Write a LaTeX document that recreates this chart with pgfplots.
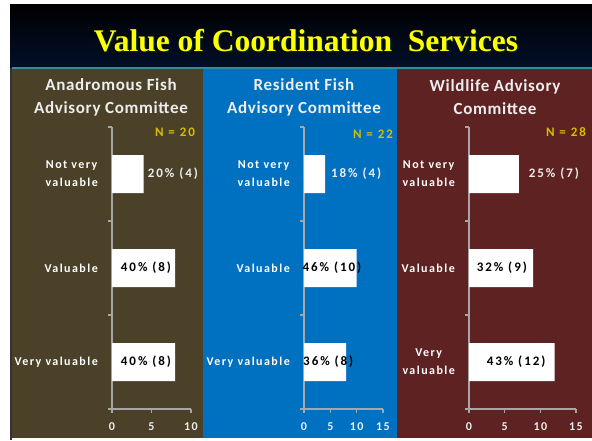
\documentclass[border=0pt]{standalone}
\usepackage{pgfplots}
\pgfplotsset{compat=1.18}
\usepackage{fontspec}
\setmainfont{Carlito}
\newfontfamily\titlefont{Liberation Serif}
\newfontfamily\hdrfont[LetterSpace=4]{Carlito}
\newfontfamily\lsfont[LetterSpace=12]{Carlito}
\newfontfamily\barlsfont[LetterSpace=15]{Carlito}

\definecolor{panelA}{HTML}{4B4129}
\definecolor{panelB}{HTML}{0070C0}
\definecolor{panelC}{HTML}{5E2222}
\definecolor{tealline}{HTML}{2E8E9E}
\definecolor{navy}{HTML}{03102A}
\definecolor{axgray}{HTML}{A6A6A6}
\definecolor{ncol}{HTML}{D4C000}
\definecolor{hdr}{HTML}{EDEDED}
\definecolor{ttl}{HTML}{FFFF00}

\newcommand{\catfont}{\lsfont\bfseries\fontsize{12}{18}\selectfont}
\newcommand{\barfont}{\barlsfont\bfseries\fontsize{13}{15}\selectfont}
\newcommand{\ticfont}{\lsfont\bfseries\fontsize{12}{14}\selectfont}

\tikzset{
  catlab/.style={font=\catfont, text=white, align=center, anchor=east, inner sep=0pt, xshift=-14pt},
  darklab/.style={font=\barfont, text=black, inner sep=0pt},
  lightlab/.style={font=\barfont, text=hdr, inner sep=0pt},
}

\pgfplotsset{panel/.style={
  scale only axis, height=282pt, xbar, bar width=38pt,
  ymin=-0.5, ymax=2.5, xmin=0,
  axis x line*=bottom, axis y line*=left,
  axis line style={axgray, line width=1.2pt},
  ytick={-0.5,0.5,1.5,2.5}, yticklabels={},
  tick style={axgray, line width=1.2pt},
  major tick length=4pt, tick align=outside,
  xticklabel style={font=\ticfont, text=hdr, yshift=-6pt},
  /pgf/number format/assume math mode=true,
  clip=false,
}}

\begin{document}
\begin{tikzpicture}
\useasboundingbox (0pt,0pt) rectangle (592pt,440pt);
\fill[white] (0pt,0pt) rectangle (592pt,440pt);
\shade[top color=black, bottom color=navy] (10pt,372pt) rectangle (592pt,435pt);
\fill[black!80] (10pt,0pt) rectangle (12pt,372pt);
\fill[panelA] (12pt,2pt) rectangle (203pt,371pt);
\fill[panelB] (203pt,2pt) rectangle (397pt,371pt);
\fill[panelC] (397pt,2pt) rectangle (592pt,371pt);
\fill[tealline] (12pt,371pt) rectangle (592pt,373pt);

\node[anchor=base, text=black!60!green!40!black, font=\titlefont\bfseries\fontsize{31.5}{34}\selectfont] at (307pt,387pt) {Value of Coordination\ \ Services};
\node[anchor=base, text=ttl, font=\titlefont\bfseries\fontsize{31.5}{34}\selectfont] at (306pt,388pt) {Value of Coordination\ \ Services};

\node[align=center, text=hdr, font=\hdrfont\bfseries\fontsize{17}{23}\selectfont] at (111pt,342.5pt) {Anadromous Fish\\Advisory Committee};
\node[align=center, text=hdr, font=\hdrfont\bfseries\fontsize{17}{23}\selectfont] at (304pt,342.5pt) {Resident Fish\\Advisory Committee};
\node[align=center, text=hdr, font=\hdrfont\bfseries\fontsize{17}{23}\selectfont] at (495pt,342.5pt) {Wildlife Advisory\\Committee};

\node[text=ncol, font=\barfont] at (175pt,308pt) {N = 20};
\node[text=ncol, font=\barfont] at (373pt,306pt) {N = 22};
\node[text=ncol, font=\barfont] at (566pt,308pt) {N = 28};

% Panel 1
\begin{axis}[panel, at={(112pt,31pt)}, anchor=south west, width=79pt, xmax=10, xtick={0,5,10}]
\addplot[fill=white, draw=none] coordinates {(8,0) (8,1) (4,2)};
\node[catlab] at (axis cs:0,2) {Not very\\valuable};
\node[catlab] at (axis cs:0,1) {Valuable};
\node[catlab] at (axis cs:0,0) {Very valuable};
\node[lightlab] at (axis cs:7.7,2) {20\% (4)};
\node[darklab] at (axis cs:4.3,1) {40\% (8)};
\node[darklab] at (axis cs:4.3,0) {40\% (8)};
\end{axis}

% Panel 2
\begin{axis}[panel, at={(304pt,31pt)}, anchor=south west, width=79pt, xmax=15, xtick={0,5,10,15}]
\addplot[fill=white, draw=none] coordinates {(8,0) (10,1) (4,2)};
\node[catlab] at (axis cs:0,2) {Not very\\valuable};
\node[catlab] at (axis cs:0,1) {Valuable};
\node[catlab] at (axis cs:0,0) {Very valuable};
\node[lightlab] at (axis cs:9.9,2) {18\% (4)};
\node[darklab] at (axis cs:5.3,1) {46\% (10)};
\node[darklab] at (axis cs:4.6,0) {36\% (8)};
\end{axis}

% Panel 3
\begin{axis}[panel, at={(469pt,31pt)}, anchor=south west, width=107pt, xmax=15, xtick={0,5,10,15}]
\addplot[fill=white, draw=none] coordinates {(12,0) (9,1) (7,2)};
\node[catlab] at (axis cs:0,2) {Not very\\valuable};
\node[catlab] at (axis cs:0,1) {Valuable};
\node[catlab] at (axis cs:0,0) {Very\\valuable};
\node[lightlab] at (axis cs:11.9,2) {25\% (7)};
\node[darklab] at (axis cs:4.6,1) {32\% (9)};
\node[darklab] at (axis cs:6.6,0) {43\% (12)};
\end{axis}
\end{tikzpicture}
\end{document}
